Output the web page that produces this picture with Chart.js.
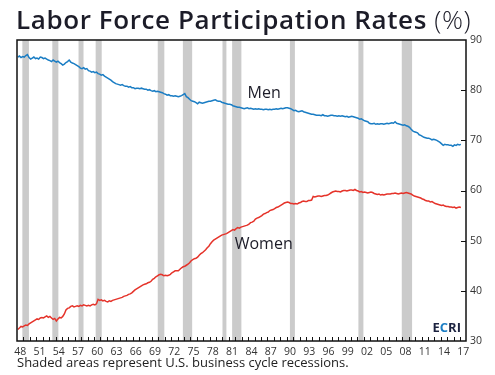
<!DOCTYPE html>
<html>
<head>
<meta charset="utf-8">
<script src="https://cdn.jsdelivr.net/npm/chart.js@4"></script>
<style>
html, body { margin: 0; padding: 0; background: #fff; }
#wrap { position: relative; width: 495px; height: 375px; overflow: hidden; font-family: "Open Sans", sans-serif; }
#title { position: absolute; left: 16px; top: 1px; font-size: 26px; font-weight: 600; letter-spacing: 0.6px; color: #1c1c28; white-space: nowrap; }
#title span { font-weight: 300; }
#note { position: absolute; left: 17px; top: 353px; font-size: 13px; color: #222; white-space: nowrap; }
canvas { position: absolute; left: 0; top: 0; }
</style>
</head>
<body>
<div id="wrap">
  <canvas id="chart" width="495" height="375"></canvas>
  <div id="title">Labor Force Participation Rates <span>(%)</span></div>
  <div id="note">Shaded areas represent U.S. business cycle recessions.</div>
</div>
<script>
// quarterly values, starting 1948 Q1
var startYear = 1948;

var men = [
  86.6, 86.8, 86.5, 86.7,  86.6, 86.9, 87.1, 86.5,  86.2, 86.4, 86.6, 86.3,  86.4, 86.2, 86.6, 86.5,
  86.3, 86.4, 86.2, 86.0,  85.9, 85.7, 86.0, 85.8,  85.6, 85.8, 85.5, 85.3,  85.0, 85.2, 85.5, 85.7,
  86.0, 85.6, 85.4, 85.3,  85.1, 84.9, 84.7, 84.4,  84.3, 84.5, 84.2, 84.3,  83.9, 83.8, 83.6, 83.7,
  83.5, 83.6, 83.3, 83.2,  83.0, 83.1, 82.8, 82.6,  82.4, 82.2, 82.0, 81.7,  81.5, 81.3, 81.2, 81.1,
  81.0, 81.1, 80.9, 80.8,  80.8, 80.6, 80.7, 80.5,  80.5, 80.3, 80.4, 80.4,  80.3, 80.4, 80.3, 80.2,
  80.2, 80.0, 80.1, 79.9,  79.8, 79.9, 79.7, 79.8,  79.7, 79.6, 79.5, 79.3,  79.2, 79.0, 79.1, 78.9,
  78.9, 78.8, 78.9, 78.8,  78.7, 78.8, 78.9, 79.1,  79.3, 78.7, 78.5, 78.2,  77.9, 77.8, 77.7, 77.5,
  77.3, 77.6, 77.5, 77.4,  77.5, 77.6, 77.7, 77.8,  77.8, 77.9, 78.0, 78.1,  77.9, 77.8, 77.8, 77.6,
  77.5, 77.4, 77.3, 77.2,  77.2, 77.1, 76.9, 76.8,  76.7, 76.6, 76.6, 76.5,  76.4, 76.3, 76.4, 76.5,
  76.3, 76.4, 76.3, 76.2,  76.3, 76.2, 76.3, 76.2,  76.2, 76.1, 76.2, 76.2,  76.1, 76.2, 76.1, 76.2,
  76.2, 76.3, 76.2, 76.3,  76.4, 76.3, 76.4, 76.5,  76.5, 76.4, 76.3, 76.1,  75.9, 76.0, 75.8, 75.7,
  75.8, 75.9, 75.7, 75.6,  75.5, 75.4, 75.3, 75.2,  75.2, 75.1, 75.0, 75.0,  75.0, 74.9, 75.1, 74.9,
  74.9, 74.8, 74.9, 75.0,  75.0, 74.9, 74.9, 74.8,  74.9, 74.8, 74.9, 74.8,  74.7, 74.8, 74.6, 74.7,
  74.8, 74.7, 74.6, 74.5,  74.4, 74.2, 74.3, 74.1,  73.9, 73.8, 73.7, 73.4,  73.3, 73.3, 73.4, 73.2,
  73.3, 73.2, 73.3, 73.3,  73.2, 73.3, 73.4, 73.3,  73.4, 73.5, 73.4, 73.7,  73.4, 73.3, 73.2, 73.1,
  73.0, 73.1, 72.9, 72.8,  72.6, 72.2, 71.9, 71.7,  71.6, 71.5, 71.1, 71.0,  70.8, 70.6, 70.5, 70.4,
  70.4, 70.3, 70.1, 70.2,  70.1, 70.0, 69.8, 69.6,  69.3, 69.0, 69.2, 69.1,  69.1, 69.0, 69.0, 68.8,
  69.1, 69.0, 69.2, 69.1,  69.2
];

var women = [
  32.3, 32.6, 32.9, 32.8,  33.0, 33.2, 33.1, 33.4,  33.6, 33.8, 34.0, 34.2,  34.4, 34.3, 34.6, 34.7,
  34.6, 34.8, 35.0, 34.7,  34.9, 34.6, 34.3, 34.5,  34.0, 34.4, 34.7, 34.6,  34.9, 35.4, 36.2, 36.5,
  36.6, 36.9, 37.0, 36.8,  36.9, 37.0, 36.9, 37.1,  37.0, 37.2, 37.1, 37.0,  37.1, 37.0, 37.2, 37.3,
  37.2, 37.4, 38.3, 38.1,  38.2, 38.0, 38.1, 37.9,  37.8, 38.0, 37.9, 38.1,  38.2, 38.3, 38.4, 38.5,
  38.6, 38.7, 38.9, 39.0,  39.1, 39.3, 39.4, 39.6,  39.9, 40.2, 40.4, 40.6,  40.8, 41.0, 41.2, 41.3,
  41.4, 41.6, 41.7, 41.9,  42.3, 42.5, 42.8, 43.0,  43.2, 43.3, 43.2, 43.0,  43.1, 43.0, 43.1, 43.3,
  43.6, 43.8, 44.0, 44.0,  44.0, 44.3, 44.6, 44.8,  44.9, 45.1, 45.3, 45.6,  46.0, 46.2, 46.4, 46.5,
  46.7, 47.1, 47.4, 47.6,  47.9, 48.2, 48.6, 48.9,  49.4, 49.8, 50.1, 50.3,  50.5, 50.7, 50.9, 51.1,
  51.2, 51.3, 51.4, 51.6,  51.8, 52.0, 52.2, 52.1,  52.4, 52.6, 52.5, 52.7,  52.8, 52.9, 53.0, 53.1,
  53.3, 53.6, 53.7, 53.9,  54.3, 54.5, 54.6, 54.8,  55.0, 55.3, 55.4, 55.6,  55.7, 56.0, 56.1, 56.2,
  56.4, 56.6, 56.7, 56.9,  57.1, 57.3, 57.5, 57.6,  57.7, 57.6, 57.4, 57.4,  57.3, 57.4, 57.3, 57.5,
  57.6, 57.8, 57.9, 57.8,  57.8, 58.0, 58.0, 58.1,  58.8, 58.7, 58.8, 58.9,  58.9, 58.8, 58.9, 59.0,
  59.0, 59.1, 59.3, 59.5,  59.7, 59.8, 59.9, 59.8,  59.8, 59.7, 59.9, 60.0,  60.0, 59.9, 60.0, 60.1,
  60.1, 60.0, 60.2, 60.0,  59.9, 59.7, 59.8, 59.6,  59.7, 59.6, 59.5, 59.6,  59.7, 59.6, 59.4, 59.3,
  59.2, 59.3, 59.1, 59.2,  59.1, 59.2, 59.3, 59.3,  59.3, 59.4, 59.4, 59.5,  59.4, 59.3, 59.4, 59.5,
  59.4, 59.5, 59.6, 59.5,  59.4, 59.3, 59.1, 58.9,  58.8, 58.7, 58.6, 58.5,  58.3, 58.2, 58.0, 57.9,
  57.9, 57.7, 57.8, 57.6,  57.4, 57.3, 57.2, 57.1,  57.0, 57.1, 56.9, 56.8,  56.8, 56.7, 56.7, 56.6,
  56.7, 56.5, 56.6, 56.7,  56.6
];

// NBER recessions, peak month to trough month
var recessionStarts = ['1948-11', '1953-07', '1957-08', '1960-04', '1969-12', '1973-11', '1980-01', '1981-07', '1990-07', '2001-03', '2007-12'];
var recessionEnds   = ['1949-10', '1954-05', '1958-04', '1961-02', '1970-11', '1975-03', '1980-07', '1982-11', '1991-03', '2001-11', '2009-06'];

// x axis labels every 3 years
var labelYears = [];
for (var y = 1948; y <= 2017; y += 3) labelYears.push(y);

function toPoints(arr) {
  return arr.map(function (v, i) { return { x: startYear + i / 4 + 0.125, y: v }; });
}
function monthToYear(s, endOfMonth) {
  var p = s.split('-');
  return +p[0] + (+p[1] - 1 + (endOfMonth ? 1.3 : 0)) / 12;
}

var recessionShade = {
  id: 'recessionShade',
  beforeDatasetsDraw: function (chart) {
    var ctx = chart.ctx, area = chart.chartArea, xs = chart.scales.x;
    ctx.save();
    ctx.fillStyle = '#cbcbcb';
    for (var i = 0; i < recessionStarts.length; i++) {
      var x0 = xs.getPixelForValue(monthToYear(recessionStarts[i], false));
      var x1 = xs.getPixelForValue(monthToYear(recessionEnds[i], true));
      ctx.fillRect(x0, area.top, x1 - x0, area.bottom - area.top);
    }
    ctx.restore();
  }
};

var frame = {
  id: 'frame',
  afterDatasetsDraw: function (chart) {
    var ctx = chart.ctx, a = chart.chartArea, xs = chart.scales.x, ys = chart.scales.y;
    ctx.save();
    ctx.strokeStyle = '#111';
    ctx.lineWidth = 1;
    ctx.beginPath();
    // yearly ticks along the bottom, inward
    for (var yr = 1949; yr <= 2017; yr++) {
      var px = Math.round(xs.getPixelForValue(yr)) + 0.5;
      ctx.moveTo(px, a.bottom);
      ctx.lineTo(px, a.bottom - 4);
    }
    // value ticks on the right, inward
    for (var v = 40; v <= 80; v += 10) {
      var py = Math.round(ys.getPixelForValue(v)) + 0.5;
      ctx.moveTo(a.right, py);
      ctx.lineTo(a.right - 5, py);
    }
    ctx.stroke();
    ctx.lineWidth = 1.5;
    ctx.strokeRect(a.left, a.top, a.right - a.left, a.bottom - a.top);

    // series names
    ctx.fillStyle = '#1c1c28';
    ctx.font = '500 16px "Open Sans"';
    ctx.textBaseline = 'middle';
    ctx.fillText('Men', xs.getPixelForValue(1983.9), ys.getPixelForValue(79.4));
    ctx.fillText('Women', xs.getPixelForValue(1981.9), ys.getPixelForValue(49.2));

    // ECRI mark
    ctx.font = 'bold 13px "Open Sans"';
    ctx.textBaseline = 'alphabetic';
    var bx = a.right - 5, by = a.bottom - 9;
    var wE = ctx.measureText('E').width, wC = ctx.measureText('C').width, wRI = ctx.measureText('RI').width;
    var sx = bx - wE - wC - wRI;
    ctx.fillStyle = '#1c2340';
    ctx.fillText('E', sx, by);
    ctx.fillStyle = '#1a7dc4';
    ctx.fillText('C', sx + wE, by);
    ctx.fillStyle = '#1c2340';
    ctx.fillText('RI', sx + wE + wC, by);
    ctx.restore();
  }
};

var ctx = document.getElementById('chart').getContext('2d');
new Chart(ctx, {
  type: 'line',
  data: {
    datasets: [
      {
        label: 'Men',
        data: toPoints(men),
        borderColor: '#1a7dc4',
        borderWidth: 1.5,
        pointRadius: 0,
        tension: 0
      },
      {
        label: 'Women',
        data: toPoints(women),
        borderColor: '#e5332a',
        borderWidth: 1.5,
        pointRadius: 0,
        tension: 0
      }
    ]
  },
  options: {
    responsive: false,
    animation: false,
    layout: { padding: { left: 17, top: 40, right: 0, bottom: 14 } },
    plugins: {
      legend: { display: false },
      tooltip: { enabled: false }
    },
    scales: {
      x: {
        type: 'linear',
        min: 1948,
        max: 2017.92,
        grid: { display: false, drawTicks: false },
        border: { display: false },
        afterBuildTicks: function (scale) {
          scale.ticks = labelYears.map(function (y) { return { value: y + 0.5 }; });
        },
        afterFit: function (scale) { scale.height = 20; },
        ticks: {
          autoSkip: false,
          maxRotation: 0,
          padding: 5,
          color: '#333',
          font: { family: 'Open Sans', size: 10.5 },
          callback: function (value) {
            var yy = Math.floor(value) % 100;
            return (yy < 10 ? '0' : '') + yy;
          }
        }
      },
      y: {
        position: 'right',
        min: 30,
        max: 90,
        grid: { display: false, drawTicks: false },
        border: { display: false },
        afterFit: function (scale) { scale.width = 29; },
        ticks: {
          stepSize: 10,
          padding: 4,
          color: '#333',
          font: { family: 'Open Sans', size: 10.5 }
        }
      }
    }
  },
  plugins: [recessionShade, frame]
});
</script>
</body>
</html>
